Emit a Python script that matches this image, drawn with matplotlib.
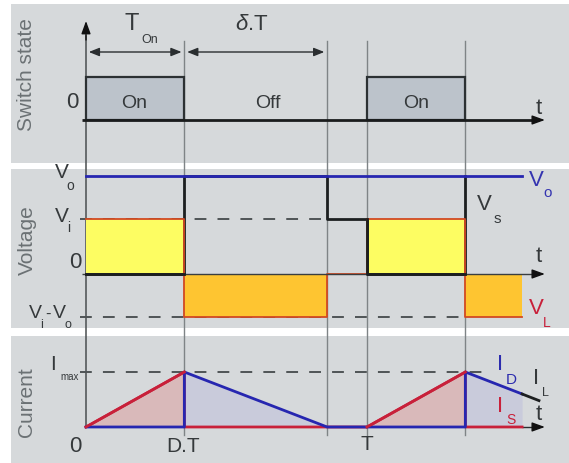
import matplotlib
matplotlib.use('Agg')
import matplotlib.pyplot as plt
from matplotlib.patches import Rectangle
from matplotlib import transforms

plt.rcParams['font.family'] = ['Liberation Sans', 'DejaVu Sans']
plt.rcParams['lines.scale_dashes'] = False
plt.rcParams['mathtext.fontset'] = 'custom'
plt.rcParams['mathtext.rm'] = 'Liberation Sans'
plt.rcParams['mathtext.it'] = 'Liberation Sans:italic'

# ---------------- data (time in units of T) ----------------
D = 0.35          # duty cycle (end of on time)
T_OFF = 0.858     # D + delta : inductor current reaches zero
T = 1.0
T_END = 1.552     # end of drawn waveforms
T_TAIL = 1.612    # end of I_L tail
T_ARROW = 1.633   # t-axis arrow tip

guide_t = [0, D, T_OFF, T, T + D]

# switch state
on_start = [0, T]
on_len = [D, D]

# voltages (Vo = 1)
VO = 1.0
VI = 0.56
vs_t = [0, D, D, T_OFF, T_OFF, T, T, T + D, T + D]
vs_v = [0, 0, VO, VO, VI, VI, 0, 0, VO]
vl_t = [0, D, D, T_OFF, T_OFF, T, T, T + D, T + D, T_END]
vl_v = [VI, VI, VI - VO, VI - VO, 0, 0, VI, VI, VI - VO, VI - VO]
pos_start = [0, T]
pos_end = [D, T + D]
neg_start = [D, T + D]
neg_end = [T_OFF, T_END]

# currents (Imax = 1)
is_t = [0, D, D, T, T, T + D, T + D, T_END]
is_v = [0, 1, 0, 0, 0, 1, 0, 0]
id_t = [0, D, D, T_OFF, T, T + D, T + D, T_END]
id_v = [0, 0, 1, 0, 0, 0, 1, 0.60]
il_t = [T_END, T_TAIL]
il_v = [0.60, 0.48]

# ---------------- layout ----------------
W, H = 569, 463
PX_T0, PX_PER_T = 86, 281
fig = plt.figure(figsize=(W / 100, H / 100), dpi=100)
fig.patch.set_facecolor('white')

def frect(x0, y0, x1, y1):
    return [x0 / W, 1 - y1 / H, (x1 - x0) / W, (y1 - y0) / H]

def t_of(px):
    return (px - PX_T0) / PX_PER_T

BG = '#d6d9db'
TXT = '#35393b'
LBL = '#6b7174'
GUIDE = '#7f8486'
DASH = '#4f5456'
BLUE = '#2626b0'
RED = '#c8203a'
VL_EDGE = '#d24a22'

def overlay(z):
    a = fig.add_axes([0, 0, 1, 1])
    a.set_xlim(0, W)
    a.set_ylim(H, 0)
    a.axis('off')
    a.patch.set_visible(False)
    a.set_zorder(z)
    return a

ov = overlay(0)
for (y0, y1) in [(4, 163), (169, 328), (336, 463)]:
    ov.add_patch(Rectangle((11, y0), W - 11, y1 - y0, facecolor=BG, edgecolor='none', zorder=0))

panels = []
for (y0, y1, ylo, yhi) in [(4, 163, -1.0, 2.698), (169, 328, -0.551, 1.071), (336, 463, -0.655, 1.655)]:
    a = fig.add_axes(frect(11, y0, W, y1))
    a.set_xlim(t_of(11), t_of(W))
    a.set_ylim(ylo, yhi)
    a.axis('off')
    a.patch.set_visible(False)
    a.set_zorder(1)
    panels.append(a)
a1, a2, a3 = panels
top = overlay(5)

# vertical guide lines (x from data, y in pixels)
btr = transforms.blended_transform_factory(a1.transData, ov.transData)
for gt in guide_t[1:]:
    ov.plot([gt, gt], [41, 435], color=GUIDE, lw=1.0, transform=btr, zorder=1)
ov.plot([0, 0], [36, 427], color='#4a4e50', lw=1.1, transform=btr, zorder=2)
ov.annotate('', xy=(0, 21), xytext=(0, 40), xycoords=btr, textcoords=btr,
            arrowprops=dict(arrowstyle='-|>,head_length=0.55,head_width=0.2', color='#111111',
                            lw=1.0, shrinkA=0, shrinkB=0, mutation_scale=14), zorder=3)

# dimension arrows
for (ta, tb) in [(0, D), (D, T_OFF)]:
    ov.annotate('', xy=(tb, 52), xytext=(ta, 52), xycoords=btr, textcoords=btr,
                arrowprops=dict(arrowstyle='<|-|>,head_length=0.45,head_width=0.18', color='#2a2e30',
                                lw=1.0, shrinkA=2, shrinkB=2, mutation_scale=14), zorder=3)

def t_axis(ax, t0, color, lw, head_color):
    ax.plot([t0, T_ARROW - 0.02], [0, 0], color=color, lw=lw, solid_capstyle='butt', zorder=5)
    ax.annotate('', xy=(T_ARROW, 0), xytext=(T_ARROW - 0.04, 0),
                arrowprops=dict(arrowstyle='-|>,head_length=0.55,head_width=0.2', color=head_color,
                                lw=1.0, shrinkA=0, shrinkB=0, mutation_scale=14), zorder=6)

# ---------------- panel 1: switch state ----------------
for s, l in zip(on_start, on_len):
    a1.add_patch(Rectangle((s, 0), l, 1, facecolor='#bcc3cb', edgecolor='#2c3133', lw=1.6, zorder=3))
t_axis(a1, t_of(82), '#1a1c1d', 2.0, '#111111')

# ---------------- panel 2: voltage ----------------
a2.plot([t_of(80), T_OFF], [VI, VI], color=DASH, lw=1.4, ls=(0, (8.5, 8)), zorder=2)
a2.plot([t_of(80), T + D], [VI - VO, VI - VO], color=DASH, lw=1.4, ls=(0, (8.5, 8)), zorder=2)
for s, e in zip(pos_start, pos_end):
    a2.add_patch(Rectangle((s, 0), e - s, VI, facecolor='#fdfd62', edgecolor='none', zorder=3))
for s, e in zip(neg_start, neg_end):
    a2.add_patch(Rectangle((s, VI - VO), e - s, -(VI - VO), facecolor='#fec531', edgecolor='none', zorder=3))
a2.plot(vs_t, vs_v, color='#1c1f20', lw=2.0, zorder=4)
a2.plot(vl_t, vl_v, color=VL_EDGE, lw=1.3, zorder=4.5)
t_axis(a2, t_of(82), '#3a3e40', 1.0, '#111111')
a2.plot(vs_t[:2], vs_v[:2], color='#1c1f20', lw=2.0, zorder=5.5)
a2.plot(vs_t[5:8], vs_v[5:8], color='#1c1f20', lw=2.0, zorder=5.5)
a2.plot([0, T_END], [VO, VO], color=BLUE, lw=2.0, zorder=7)

# ---------------- panel 3: current ----------------
a3.plot([t_of(80), t_of(486)], [1, 1], color=DASH, lw=1.4, ls=(0, (8.5, 8)), zorder=2)
a3.fill_between(is_t[:2], is_v[:2], 0, color='#d9b9ba', lw=0, zorder=3)
a3.fill_between(is_t[4:6], is_v[4:6], 0, color='#d9b9ba', lw=0, zorder=3)
a3.fill_between(id_t[2:4], id_v[2:4], 0, color='#c9cbdb', lw=0, zorder=3)
a3.fill_between(id_t[6:8], id_v[6:8], 0, color='#c9cbdb', lw=0, zorder=3)
t_axis(a3, T_END, '#2a2e30', 1.0, '#111111')
a3.plot(is_t, is_v, color=RED, lw=2.0, zorder=7)
a3.plot(id_t, id_v, color=BLUE, lw=2.0, zorder=8)
a3.plot(is_t[:2], is_v[:2], color=RED, lw=2.0, zorder=8.5)
a3.plot(is_t[4:6], is_v[4:6], color=RED, lw=2.0, zorder=8.5)
a3.plot(il_t, il_v, color='#1c1f20', lw=2.0, zorder=8)

# ---------------- text ----------------
def lab(x, y, s, size, color=TXT, **kw):
    top.text(x, y, s, fontsize=size, color=color, ha='center', va='center', zorder=10, **kw)

lab(27, 75, 'Switch state', 15, LBL, rotation=90)
lab(27, 240, 'Voltage', 15, LBL, rotation=90)
lab(27, 402, 'Current', 15, LBL, rotation=90)

# panel 1
lab(132, 24, 'T', 17)
lab(150, 40, 'On', 9)
lab(252, 24, r'$\delta$.T', 16)
lab(72, 103, '0', 16)
lab(134, 104, 'On', 14)
lab(416, 104, 'On', 14)
lab(268, 104, 'Off', 14)
lab(539, 108, 't', 16)

# panel 2
lab(62, 173, 'V', 15); lab(70, 186, 'o', 10)
lab(62, 216, 'V', 15); lab(69, 228, 'i', 10)
lab(75, 262, '0', 16)
lab(35, 314, 'V', 14); lab(42, 325, 'i', 9)
lab(48, 314, '-', 12)
lab(59, 314, 'V', 14); lab(68, 325, 'o', 9)
lab(536, 181, 'V', 16, '#3434b0'); lab(548, 193, 'o', 11, '#3434b0')
lab(484, 205, 'V', 16); lab(497, 219, 's', 11)
lab(539, 256, 't', 16)
lab(536, 309, 'V', 16, RED); lab(547, 323, 'L', 10, RED)

# panel 3
lab(53, 365, 'I', 15); lab(70, 377, 'max', 7)
lab(75, 446, '0', 16)
lab(183, 447, 'D.T', 15)
lab(367, 445, 'T', 15)
lab(500, 365, 'I', 16, '#2c2cae'); lab(511, 380, 'D', 11, '#2c2cae')
lab(536, 378, 'I', 16); lab(545, 393, 'L', 9)
lab(500, 406, 'I', 16, RED); lab(511, 420, 'S', 10, RED)
lab(539, 414, 't', 16)

fig.savefig('out.png', dpi=100, facecolor=fig.get_facecolor())
